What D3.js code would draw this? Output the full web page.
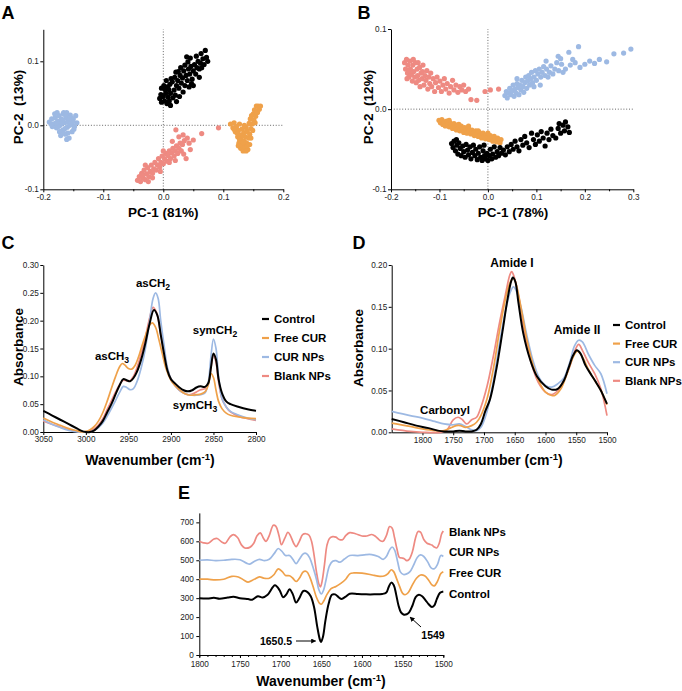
<!DOCTYPE html>
<html><head><meta charset="utf-8">
<script src="https://cdn.jsdelivr.net/npm/d3@7"></script>
<style>body{margin:0;background:#fff} svg{display:block} text{font-family:"Liberation Sans",Arial,sans-serif}</style>
</head><body><svg id="c" width="682" height="691"></svg>
<script>
// ---------- DATA ----------
const seriesNames = ["Control", "Free CUR", "CUR NPs", "Blank NPs"];
const seriesColors = ["#000000", "#EFA14A", "#9DB9E3", "#EE8A82"];

// Panel A PCA scores [PC1, PC2]
const pcaA_control = [[0.000,0.045],[0.002,0.038],[0.004,0.050],[-0.004,0.048],[-0.006,0.042],[0.006,0.034],[0.008,0.044],[0.010,0.038],[0.003,0.056],[0.007,0.060],[0.012,0.050],[0.012,0.031],[0.016,0.043],[0.011,0.064],[0.001,0.062],[-0.003,0.058],[0.018,0.055],[0.020,0.047],[0.015,0.068],[0.022,0.062],[0.024,0.070],[0.019,0.075],[0.026,0.058],[0.028,0.078],[0.030,0.066],[0.025,0.084],[0.032,0.074],[0.034,0.085],[0.029,0.090],[0.036,0.062],[0.038,0.078],[0.040,0.070],[0.036,0.094],[0.042,0.088],[0.044,0.080],[0.041,0.099],[0.046,0.092],[0.048,0.072],[0.050,0.085],[0.045,0.105],[0.052,0.095],[0.054,0.080],[0.056,0.090],[0.050,0.062],[0.058,0.100],[0.060,0.088],[0.055,0.108],[0.062,0.097],[0.064,0.090],[0.066,0.104],[0.063,0.112],[0.068,0.095],[0.070,0.117],[0.072,0.106],[0.074,0.100],[0.060,0.075],[0.047,0.065],[0.033,0.052],[0.021,0.083],[0.013,0.073],[0.005,0.070],[0.039,0.107],[0.043,0.060],[0.009,0.056],[0.027,0.045],[0.022,0.037],[-0.003,0.036]];
const pcaA_freeCur = [[0.112,0.002],[0.116,-0.004],[0.118,0.004],[0.120,-0.010],[0.122,-0.002],[0.124,-0.018],[0.125,-0.008],[0.126,-0.028],[0.127,0.002],[0.128,-0.015],[0.129,-0.036],[0.130,-0.022],[0.131,-0.006],[0.132,-0.030],[0.133,-0.040],[0.134,-0.012],[0.135,-0.025],[0.136,-0.034],[0.137,-0.018],[0.138,-0.003],[0.139,-0.028],[0.140,-0.010],[0.141,-0.038],[0.142,-0.020],[0.143,0.003],[0.144,-0.014],[0.145,0.010],[0.146,-0.005],[0.147,0.015],[0.148,0.002],[0.150,0.018],[0.151,0.008],[0.152,0.024],[0.154,0.014],[0.155,0.030],[0.157,0.020],[0.158,0.030],[0.160,0.025],[0.162,0.030],[0.153,0.004],[0.149,-0.008],[0.131,-0.016],[0.127,-0.022],[0.138,-0.040],[0.144,-0.030],[0.123,-0.012],[0.118,-0.006],[0.135,0.000],[0.139,-0.008],[0.133,-0.026],[0.140,-0.032],[0.146,-0.020],[0.125,-0.032]];
const pcaA_curNps = [[-0.190,0.005],[-0.186,0.010],[-0.183,0.002],[-0.180,0.012],[-0.178,-0.004],[-0.176,0.006],[-0.174,0.015],[-0.172,0.000],[-0.170,0.010],[-0.168,-0.008],[-0.167,0.018],[-0.165,0.004],[-0.163,-0.014],[-0.162,0.012],[-0.160,-0.003],[-0.158,0.008],[-0.157,-0.020],[-0.155,0.016],[-0.153,0.002],[-0.152,-0.010],[-0.150,0.010],[-0.148,-0.002],[-0.146,0.015],[-0.144,0.004],[-0.185,-0.002],[-0.181,0.018],[-0.177,0.020],[-0.173,-0.010],[-0.169,0.003],[-0.166,0.020],[-0.164,-0.005],[-0.161,0.020],[-0.159,-0.012],[-0.156,0.000],[-0.154,0.012],[-0.151,0.005],[-0.149,-0.006],[-0.171,-0.016],[-0.166,-0.012],[-0.161,-0.022],[-0.175,-0.002],[-0.179,0.004],[-0.187,0.002],[-0.160,0.005],[-0.168,0.008],[-0.157,0.010],[-0.163,0.016]];
const pcaA_blankNps = [[-0.043,-0.086],[-0.040,-0.080],[-0.038,-0.088],[-0.036,-0.075],[-0.034,-0.082],[-0.032,-0.070],[-0.030,-0.085],[-0.028,-0.076],[-0.026,-0.066],[-0.024,-0.080],[-0.022,-0.072],[-0.020,-0.062],[-0.018,-0.075],[-0.016,-0.068],[-0.014,-0.058],[-0.012,-0.070],[-0.010,-0.062],[-0.008,-0.052],[-0.006,-0.065],[-0.004,-0.058],[-0.002,-0.048],[0.000,-0.060],[0.002,-0.052],[0.004,-0.044],[0.006,-0.056],[0.008,-0.047],[0.010,-0.040],[0.012,-0.052],[0.014,-0.043],[0.016,-0.036],[0.018,-0.048],[0.020,-0.040],[0.022,-0.032],[0.024,-0.044],[0.026,-0.036],[0.028,-0.028],[0.030,-0.040],[0.032,-0.030],[0.035,-0.024],[0.033,-0.015],[0.040,-0.020],[0.043,-0.028],[0.050,-0.023],[0.038,-0.052],[0.064,-0.013],[0.092,-0.004],[0.021,-0.007],[-0.025,-0.088],[-0.035,-0.078],[-0.018,-0.082],[-0.005,-0.072],[0.010,-0.058],[0.020,-0.055],[0.034,-0.045],[0.045,-0.038],[-0.030,-0.062],[0.000,-0.040],[0.015,-0.025],[0.026,-0.018]];

// Panel B PCA scores
const pcaB_control = [[-0.075,-0.043],[-0.072,-0.048],[-0.070,-0.040],[-0.067,-0.052],[-0.064,-0.045],[-0.062,-0.056],[-0.060,-0.042],[-0.057,-0.049],[-0.055,-0.058],[-0.052,-0.046],[-0.050,-0.053],[-0.047,-0.060],[-0.045,-0.044],[-0.042,-0.051],[-0.040,-0.057],[-0.037,-0.047],[-0.035,-0.062],[-0.032,-0.054],[-0.030,-0.045],[-0.027,-0.058],[-0.025,-0.050],[-0.022,-0.063],[-0.020,-0.055],[-0.017,-0.047],[-0.015,-0.060],[-0.012,-0.064],[-0.010,-0.052],[-0.007,-0.058],[-0.005,-0.062],[-0.002,-0.055],[0.000,-0.064],[0.003,-0.058],[0.005,-0.050],[0.008,-0.062],[0.010,-0.056],[0.013,-0.047],[0.016,-0.060],[0.019,-0.053],[0.022,-0.058],[0.025,-0.048],[0.028,-0.055],[0.032,-0.051],[0.036,-0.057],[0.040,-0.047],[0.044,-0.053],[0.048,-0.044],[0.052,-0.050],[0.056,-0.040],[0.060,-0.047],[0.064,-0.052],[0.068,-0.038],[0.072,-0.045],[0.076,-0.034],[0.080,-0.042],[0.085,-0.048],[0.090,-0.030],[0.094,-0.038],[0.098,-0.044],[0.102,-0.032],[0.106,-0.040],[0.110,-0.028],[0.114,-0.036],[0.118,-0.046],[0.122,-0.030],[0.126,-0.038],[0.130,-0.025],[0.134,-0.033],[0.140,-0.036],[0.145,-0.024],[0.150,-0.030],[0.155,-0.020],[0.158,-0.027],[0.160,-0.016],[0.165,-0.022],[0.168,-0.029],[0.147,-0.018],[-0.065,-0.038],[-0.008,-0.045]];
const pcaB_freeCur = [[-0.101,-0.014],[-0.098,-0.017],[-0.095,-0.013],[-0.093,-0.019],[-0.090,-0.016],[-0.088,-0.021],[-0.085,-0.015],[-0.083,-0.019],[-0.080,-0.022],[-0.078,-0.017],[-0.075,-0.020],[-0.073,-0.024],[-0.070,-0.018],[-0.068,-0.022],[-0.065,-0.026],[-0.063,-0.020],[-0.060,-0.024],[-0.058,-0.027],[-0.055,-0.021],[-0.053,-0.025],[-0.050,-0.029],[-0.048,-0.023],[-0.045,-0.027],[-0.043,-0.030],[-0.040,-0.024],[-0.038,-0.028],[-0.035,-0.031],[-0.033,-0.026],[-0.030,-0.030],[-0.028,-0.033],[-0.025,-0.027],[-0.023,-0.031],[-0.020,-0.034],[-0.018,-0.029],[-0.015,-0.032],[-0.013,-0.036],[-0.010,-0.030],[-0.008,-0.034],[-0.005,-0.037],[-0.003,-0.032],[0.000,-0.035],[0.003,-0.038],[0.005,-0.033],[0.008,-0.036],[0.010,-0.040],[0.013,-0.034],[0.015,-0.038],[0.018,-0.041],[0.020,-0.036],[0.023,-0.039],[0.025,-0.042],[0.027,-0.038],[-0.060,-0.019],[-0.040,-0.021],[-0.020,-0.027],[0.000,-0.030],[-0.080,-0.014]];
const pcaB_curNps = [[0.035,0.017],[0.038,0.022],[0.040,0.014],[0.043,0.020],[0.045,0.026],[0.047,0.018],[0.050,0.023],[0.052,0.030],[0.054,0.016],[0.056,0.025],[0.058,0.020],[0.060,0.032],[0.062,0.027],[0.064,0.018],[0.066,0.030],[0.068,0.024],[0.070,0.036],[0.072,0.028],[0.074,0.021],[0.076,0.033],[0.078,0.040],[0.080,0.026],[0.082,0.035],[0.084,0.042],[0.086,0.030],[0.088,0.038],[0.090,0.046],[0.092,0.033],[0.095,0.040],[0.098,0.048],[0.100,0.036],[0.103,0.044],[0.106,0.050],[0.109,0.040],[0.112,0.046],[0.115,0.053],[0.118,0.042],[0.121,0.050],[0.124,0.040],[0.127,0.046],[0.130,0.054],[0.134,0.044],[0.138,0.050],[0.142,0.058],[0.146,0.048],[0.145,0.066],[0.150,0.063],[0.155,0.046],[0.160,0.050],[0.167,0.071],[0.170,0.055],[0.180,0.058],[0.187,0.078],[0.190,0.052],[0.200,0.056],[0.210,0.060],[0.220,0.057],[0.230,0.062],[0.245,0.059],[0.260,0.069],[0.280,0.070],[0.295,0.075],[0.120,0.060],[0.095,0.028],[0.060,0.038],[0.108,0.030],[0.152,0.056],[0.175,0.062]];
const pcaB_blankNps = [[-0.172,0.058],[-0.170,0.050],[-0.168,0.062],[-0.166,0.045],[-0.165,0.055],[-0.163,0.040],[-0.161,0.060],[-0.160,0.050],[-0.158,0.043],[-0.156,0.035],[-0.155,0.055],[-0.153,0.047],[-0.151,0.040],[-0.150,0.058],[-0.148,0.033],[-0.146,0.050],[-0.145,0.042],[-0.143,0.036],[-0.141,0.052],[-0.140,0.028],[-0.138,0.045],[-0.136,0.038],[-0.134,0.055],[-0.132,0.030],[-0.130,0.042],[-0.128,0.036],[-0.126,0.048],[-0.124,0.025],[-0.122,0.040],[-0.120,0.032],[-0.118,0.045],[-0.116,0.028],[-0.113,0.038],[-0.110,0.022],[-0.108,0.033],[-0.105,0.040],[-0.102,0.027],[-0.099,0.035],[-0.096,0.022],[-0.093,0.030],[-0.090,0.038],[-0.087,0.025],[-0.084,0.032],[-0.080,0.020],[-0.077,0.028],[-0.073,0.036],[-0.070,0.024],[-0.066,0.030],[-0.062,0.021],[-0.058,0.028],[-0.054,0.024],[-0.050,0.030],[-0.046,0.022],[-0.040,0.025],[-0.035,0.012],[-0.023,0.011],[-0.006,0.022],[0.005,0.024],[0.022,0.025],[-0.162,0.048],[-0.154,0.062],[-0.144,0.058],[-0.135,0.047],[-0.167,0.038]];

// Panel C spectra [wavenumber, absorbance]
const ftirC_control = [[3050,0.038],[3040,0.030],[3030,0.022],[3020,0.014],[3010,0.006],[3005,0.002],[3000,0.0],[2995,0.0],[2990,0.003],[2985,0.010],[2980,0.020],[2975,0.035],[2970,0.050],[2965,0.068],[2960,0.085],[2956,0.095],[2952,0.093],[2948,0.091],[2944,0.097],[2940,0.108],[2935,0.130],[2930,0.160],[2925,0.195],[2920,0.219],[2916,0.210],[2912,0.175],[2908,0.140],[2904,0.110],[2900,0.095],[2895,0.087],[2890,0.080],[2885,0.075],[2880,0.073],[2875,0.075],[2870,0.080],[2865,0.082],[2860,0.081],[2856,0.088],[2853,0.115],[2850,0.141],[2847,0.130],[2844,0.095],[2840,0.070],[2835,0.055],[2830,0.050],[2820,0.045],[2810,0.041],[2800,0.038]];
const ftirC_freeCur = [[3050,0.025],[3040,0.018],[3030,0.012],[3020,0.006],[3010,0.002],[3005,0.0],[3000,0.001],[2995,0.004],[2990,0.010],[2985,0.020],[2980,0.035],[2975,0.055],[2970,0.078],[2965,0.100],[2960,0.118],[2957,0.123],[2954,0.120],[2950,0.114],[2946,0.113],[2942,0.120],[2938,0.135],[2934,0.155],[2930,0.173],[2925,0.192],[2922,0.196],[2918,0.188],[2914,0.165],[2910,0.140],[2906,0.115],[2900,0.093],[2895,0.083],[2890,0.076],[2885,0.070],[2880,0.067],[2875,0.066],[2870,0.067],[2865,0.068],[2860,0.072],[2856,0.085],[2853,0.105],[2850,0.098],[2847,0.075],[2844,0.055],[2840,0.042],[2835,0.034],[2830,0.030],[2820,0.027],[2810,0.025],[2800,0.024]];
const ftirC_curNps = [[3050,0.022],[3040,0.014],[3030,0.008],[3020,0.003],[3010,0.0],[3005,0.0],[3000,0.0],[2995,0.0],[2990,0.003],[2985,0.008],[2980,0.016],[2975,0.028],[2970,0.042],[2965,0.057],[2960,0.072],[2956,0.082],[2952,0.080],[2948,0.076],[2944,0.078],[2940,0.090],[2935,0.115],[2930,0.150],[2925,0.200],[2921,0.240],[2918,0.250],[2915,0.240],[2912,0.200],[2908,0.155],[2904,0.115],[2900,0.095],[2895,0.083],[2890,0.075],[2885,0.070],[2880,0.067],[2875,0.066],[2870,0.066],[2865,0.067],[2860,0.070],[2856,0.090],[2853,0.135],[2850,0.167],[2847,0.150],[2844,0.100],[2840,0.060],[2835,0.045],[2830,0.037],[2820,0.030],[2810,0.025],[2800,0.022]];
const ftirC_blankNps = [[3050,0.020],[3040,0.014],[3030,0.009],[3020,0.004],[3010,0.001],[3005,0.0],[3000,0.0],[2995,0.002],[2990,0.006],[2985,0.013],[2980,0.024],[2975,0.040],[2970,0.056],[2965,0.072],[2960,0.086],[2956,0.093],[2952,0.092],[2948,0.092],[2944,0.100],[2940,0.115],[2935,0.140],[2930,0.170],[2925,0.205],[2921,0.224],[2917,0.215],[2913,0.185],[2909,0.150],[2905,0.118],[2900,0.095],[2895,0.083],[2890,0.075],[2885,0.070],[2880,0.067],[2875,0.068],[2870,0.072],[2865,0.076],[2860,0.078],[2856,0.088],[2853,0.115],[2850,0.138],[2847,0.125],[2844,0.090],[2840,0.060],[2835,0.045],[2830,0.036],[2820,0.028],[2810,0.024],[2800,0.021]];

// Panel D spectra
const ftirD_control = [[1850,0.016],[1830,0.012],[1810,0.008],[1790,0.005],[1775,0.002],[1765,0.001],[1750,0.001],[1740,0.002],[1730,0.001],[1720,0.001],[1712,0.003],[1705,0.010],[1698,0.025],[1690,0.040],[1680,0.075],[1670,0.120],[1662,0.158],[1656,0.180],[1653,0.185],[1649,0.180],[1644,0.155],[1636,0.118],[1625,0.087],[1614,0.067],[1600,0.055],[1590,0.051],[1580,0.052],[1570,0.062],[1562,0.078],[1555,0.092],[1549,0.098],[1543,0.094],[1535,0.080],[1525,0.068],[1518,0.060],[1510,0.050],[1505,0.042],[1500,0.034]];
const ftirD_freeCur = [[1850,0.011],[1820,0.007],[1800,0.004],[1780,0.002],[1765,0.002],[1755,0.005],[1745,0.008],[1738,0.008],[1730,0.006],[1720,0.008],[1712,0.012],[1705,0.020],[1695,0.040],[1685,0.075],[1675,0.120],[1665,0.160],[1657,0.180],[1652,0.184],[1648,0.178],[1640,0.150],[1630,0.110],[1620,0.080],[1610,0.060],[1600,0.048],[1590,0.044],[1585,0.044],[1575,0.052],[1565,0.070],[1555,0.090],[1548,0.097],[1540,0.090],[1530,0.075],[1520,0.062],[1510,0.050],[1500,0.033]];
const ftirD_curNps = [[1850,0.025],[1820,0.020],[1800,0.017],[1780,0.013],[1765,0.010],[1750,0.009],[1740,0.010],[1730,0.007],[1720,0.003],[1712,0.002],[1705,0.006],[1695,0.025],[1685,0.060],[1675,0.105],[1665,0.145],[1657,0.168],[1652,0.174],[1648,0.170],[1640,0.150],[1630,0.115],[1620,0.085],[1610,0.065],[1600,0.056],[1590,0.054],[1580,0.058],[1570,0.065],[1560,0.085],[1553,0.103],[1546,0.110],[1540,0.108],[1530,0.093],[1520,0.080],[1510,0.070],[1500,0.046]];
const ftirD_blankNps = [[1850,0.004],[1820,0.001],[1800,0.0],[1770,0.0],[1760,0.003],[1750,0.015],[1742,0.018],[1735,0.015],[1728,0.010],[1720,0.015],[1712,0.018],[1705,0.030],[1695,0.055],[1685,0.090],[1675,0.130],[1665,0.165],[1658,0.188],[1655,0.192],[1651,0.186],[1643,0.160],[1633,0.115],[1622,0.080],[1612,0.060],[1600,0.048],[1590,0.045],[1580,0.050],[1570,0.062],[1560,0.080],[1552,0.098],[1546,0.105],[1540,0.098],[1530,0.083],[1520,0.070],[1510,0.052],[1500,0.020]];

// Panel E second-derivative spectra (offset)
const ftirE_control = [[1800,300],[1790,298],[1782,302],[1775,297],[1765,303],[1758,307],[1750,300],[1740,295],[1735,292],[1728,310],[1722,304],[1716,318],[1707,368],[1701,340],[1697,305],[1693,320],[1689,347],[1685,320],[1681,277],[1677,300],[1672,338],[1667,332],[1663,310],[1659,255],[1655,150],[1652,85],[1650.5,68],[1648,95],[1645,180],[1641,270],[1637,318],[1633,320],[1628,302],[1625,296],[1620,308],[1615,323],[1605,322],[1595,320],[1585,320],[1575,322],[1570,330],[1567,360],[1564,382],[1561,370],[1558,320],[1555,260],[1552,225],[1549,214],[1545,215],[1542,225],[1538,260],[1534,305],[1530,318],[1526,310],[1522,290],[1518,268],[1514,253],[1511,262],[1508,295],[1504,328],[1500,335]];
const ftirE_freeCur = [[1800,400],[1790,400],[1780,396],[1770,400],[1760,415],[1752,412],[1745,395],[1740,385],[1733,398],[1726,412],[1720,405],[1714,405],[1708,425],[1703,455],[1698,440],[1694,420],[1689,418],[1685,405],[1681,388],[1677,405],[1672,440],[1668,440],[1664,410],[1660,360],[1656,305],[1652,272],[1650,268],[1647,285],[1643,320],[1638,350],[1632,362],[1626,378],[1620,400],[1615,428],[1610,433],[1600,432],[1590,425],[1585,420],[1578,415],[1572,418],[1568,430],[1564,450],[1561,440],[1558,410],[1554,365],[1550,325],[1547,318],[1543,330],[1538,370],[1533,405],[1528,422],[1523,418],[1518,395],[1514,370],[1511,365],[1507,390],[1503,430],[1500,440]];
const ftirE_curNps = [[1800,500],[1790,502],[1780,498],[1770,500],[1760,505],[1750,503],[1742,485],[1738,480],[1732,495],[1726,505],[1720,498],[1714,505],[1708,535],[1703,562],[1698,545],[1694,525],[1689,525],[1685,505],[1681,482],[1677,505],[1672,535],[1668,535],[1664,510],[1660,460],[1656,400],[1653,345],[1650,322],[1647,345],[1644,400],[1640,470],[1636,495],[1632,498],[1627,490],[1622,505],[1615,525],[1605,525],[1595,530],[1588,530],[1580,520],[1574,505],[1570,520],[1566,555],[1563,570],[1560,555],[1556,490],[1553,440],[1549,425],[1545,428],[1541,440],[1537,470],[1532,515],[1528,528],[1524,520],[1519,490],[1515,460],[1511,455],[1507,480],[1503,525],[1500,520]];
const ftirE_blankNps = [[1800,600],[1795,592],[1789,590],[1782,612],[1778,615],[1772,595],[1768,590],[1762,625],[1758,635],[1753,620],[1748,580],[1744,565],[1738,568],[1733,590],[1729,630],[1725,645],[1721,615],[1718,600],[1714,630],[1709,685],[1706,680],[1702,630],[1699,582],[1695,615],[1691,648],[1688,630],[1684,590],[1681,572],[1677,600],[1673,635],[1669,640],[1665,632],[1662,600],[1659,530],[1656,440],[1653,375],[1651,360],[1649,390],[1646,480],[1643,580],[1640,615],[1636,625],[1632,622],[1628,610],[1624,608],[1620,630],[1615,646],[1608,640],[1600,628],[1594,628],[1588,636],[1583,625],[1578,605],[1574,600],[1570,630],[1566,678],[1563,670],[1560,620],[1557,560],[1554,515],[1551,512],[1548,508],[1545,498],[1542,505],[1538,545],[1534,620],[1531,652],[1528,648],[1524,610],[1520,590],[1517,585],[1514,580],[1511,570],[1508,565],[1505,590],[1502,640],[1500,655]];

// Tick values
const ticksA_x = [-0.2,-0.1,0,0.1,0.2], ticksA_xMinor = [-0.15,-0.05,0.05,0.15], ticksA_y = [-0.1,0,0.1];
const ticksB_x = [-0.2,-0.1,0,0.1,0.2,0.3], ticksB_xMinor = [-0.15,-0.05,0.05,0.15,0.25], ticksB_y = [-0.1,0,0.1];
const ticksC_x = [3050,3000,2950,2900,2850,2800], ticksC_y = [0,0.05,0.10,0.15,0.20,0.25,0.30];
const ticksD_x = [1800,1750,1700,1650,1600,1550,1500], ticksD_y = [0,0.05,0.10,0.15,0.20];
const ticksE_x = [1800,1750,1700,1650,1600,1550,1500], ticksE_y = [0,100,200,300,400,500,600,700];
const ticksE_xMinor = d3.range(1500, 1801, 10);

// ---------- DRAW ----------
const svg = d3.select("#c");
const FONT = '"Liberation Sans",Arial,sans-serif';
const fmt1 = v => d3.format(".1f")(v).replace("−","-");
const fmt2 = v => d3.format(".2f")(v);

function drawAxes(x, y, o) {
  const g = svg.append("g");
  g.append("g").attr("transform", `translate(0,${y.range()[0]})`)
    .call(d3.axisBottom(x).tickValues(o.xt).tickFormat(o.xf).tickSize(3).tickSizeOuter(0).tickPadding(o.padX || 1.5));
  if (o.xm) {
    g.append("g").attr("transform", `translate(0,${y.range()[0]})`)
      .call(d3.axisBottom(x).tickValues(o.xm).tickFormat("").tickSize(2).tickSizeOuter(0))
      .select(".domain").remove();
  }
  g.append("g").attr("transform", `translate(${x.range()[0]},0)`)
    .call(d3.axisLeft(y).tickValues(o.yt).tickFormat(o.yf).tickSize(3).tickSizeOuter(0).tickPadding(o.padY || 1.5));
  g.selectAll("text").attr("font-size", 8.2).attr("font-family", FONT).attr("fill", "#222");
  g.selectAll("line,path").attr("stroke", "#000");
  return g;
}

function label(x, y, txt, size, opts = {}) {
  const t = svg.append("text").attr("x", x).attr("y", y).attr("font-size", size)
    .attr("font-weight", "bold").attr("font-family", FONT)
    .attr("text-anchor", opts.anchor || "middle").attr("dominant-baseline", "central");
  if (opts.rotate) t.attr("transform", `rotate(-90,${x},${y})`);
  t.text(txt);
  return t;
}
function wavLabel(x, y) {
  const t = svg.append("text").attr("x", x).attr("y", y).attr("font-size", 14)
    .attr("font-weight", "bold").attr("font-family", FONT).attr("text-anchor", "middle");
  t.append("tspan").text("Wavenumber (cm");
  t.append("tspan").attr("dy", -5.5).attr("font-size", 9.5).text("-1");
  t.append("tspan").attr("dy", 5.5).text(")");
}
function subLabel(x, y, main, sub, size) {
  const t = svg.append("text").attr("x", x).attr("y", y).attr("font-size", size)
    .attr("font-weight", "bold").attr("font-family", FONT).attr("text-anchor", "middle");
  t.append("tspan").text(main);
  t.append("tspan").attr("dy", 3).attr("font-size", size * 0.75).text(sub);
}

function scatterPanel(xr, yr, xd, yd, sets, axo) {
  const x = d3.scaleLinear().domain(xd).range(xr);
  const y = d3.scaleLinear().domain(yd).range(yr);
  svg.append("line").attr("x1", x(0)).attr("x2", x(0)).attr("y1", y(yd[0])).attr("y2", y(yd[1]))
    .attr("stroke", "#666").attr("stroke-width", 1).attr("stroke-dasharray", "1,1.8");
  svg.append("line").attr("x1", x(xd[0])).attr("x2", x(xd[1])).attr("y1", y(0)).attr("y2", y(0))
    .attr("stroke", "#666").attr("stroke-width", 1).attr("stroke-dasharray", "1,1.8");
  sets.forEach(s => {
    svg.append("g").selectAll("circle").data(s.data).join("circle")
      .attr("cx", d => x(d[0])).attr("cy", d => y(d[1])).attr("r", 2.6).attr("fill", s.color);
  });
  drawAxes(x, y, axo);
}

// Panel A
scatterPanel([43.3, 283.3], [189.3, 29.3], [-0.2, 0.2], [-0.1, 0.15], [
  {data: pcaA_curNps, color: seriesColors[2]},
  {data: pcaA_blankNps, color: seriesColors[3]},
  {data: pcaA_freeCur, color: seriesColors[1]},
  {data: pcaA_control, color: seriesColors[0]}
], {xt: ticksA_x, xm: ticksA_xMinor, xf: fmt1, yt: ticksA_y, yf: fmt1});
label(8, 13, "A", 18);
label(163.3, 212, "PC-1 (81%)", 13.5);
label(18, 107, "PC-2  (13%)", 13.5, {rotate: true}).style("white-space", "pre");

// Panel B
scatterPanel([391, 633.3], [189.3, 29], [-0.2, 0.3], [-0.1, 0.1], [
  {data: pcaB_blankNps, color: seriesColors[3]},
  {data: pcaB_curNps, color: seriesColors[2]},
  {data: pcaB_freeCur, color: seriesColors[1]},
  {data: pcaB_control, color: seriesColors[0]}
], {xt: ticksB_x, xm: ticksB_xMinor, xf: fmt1, yt: ticksB_y, yf: fmt1});
label(364, 13, "B", 18);
label(513, 212, "PC-1 (78%)", 13.5);
label(368, 107, "PC-2  (12%)", 13.5, {rotate: true}).style("white-space", "pre");

function spectraPanel(xr, yr, xd, yd, sets, axo, width) {
  const x = d3.scaleLinear().domain(xd).range(xr);
  const y = d3.scaleLinear().domain(yd).range(yr);
  const line = d3.line().x(d => x(d[0])).y(d => y(d[1])).curve(d3.curveCatmullRom.alpha(0.5));
  drawAxes(x, y, axo);
  sets.forEach(s => {
    svg.append("path").datum(s.data).attr("d", line).attr("fill", "none")
      .attr("stroke", s.color).attr("stroke-width", s.w || width).attr("stroke-linejoin", "round");
  });
  return {x, y};
}
function legend(x, y0, dy) {
  seriesNames.forEach((n, i) => {
    const yy = y0 + i * dy;
    svg.append("line").attr("x1", x).attr("x2", x + 7).attr("y1", yy).attr("y2", yy)
      .attr("stroke", seriesColors[i]).attr("stroke-width", 2.2);
    label(x + 12, yy, n, 11.5, {anchor: "start"});
  });
}

// Panel C
spectraPanel([43.3, 256], [432, 265], [3050, 2800], [0, 0.30], [
  {data: ftirC_blankNps, color: seriesColors[3]},
  {data: ftirC_curNps, color: seriesColors[2]},
  {data: ftirC_freeCur, color: seriesColors[1]},
  {data: ftirC_control, color: seriesColors[0], w: 2}
], {xt: ticksC_x, xf: d3.format("d"), yt: ticksC_y, yf: fmt2}, 1.7);
label(8, 243, "C", 18);
wavLabel(150, 465);
label(18, 347, "Absorbance", 13.5, {rotate: true});
legend(262, 319, 19);
subLabel(153, 287, "asCH", "2", 11.5);
subLabel(112, 360, "asCH", "3", 11.5);
subLabel(215, 334, "symCH", "2", 11.5);
subLabel(195, 409, "symCH", "3", 11.5);

// Panel D
spectraPanel([391.7, 607], [432.3, 265], [1850, 1500], [0, 0.20], [
  {data: ftirD_blankNps, color: seriesColors[3]},
  {data: ftirD_curNps, color: seriesColors[2]},
  {data: ftirD_freeCur, color: seriesColors[1]},
  {data: ftirD_control, color: seriesColors[0], w: 2}
], {xt: ticksD_x, xf: d3.format("d"), yt: ticksD_y, yf: fmt2}, 1.7);
label(359, 243, "D", 18);
wavLabel(498, 465);
label(358, 348, "Absorbance", 13.5, {rotate: true});
legend(613, 325, 18.6);
label(512, 263, "Amide I", 12);
label(577, 330, "Amide II", 12);
label(445, 410, "Carbonyl", 11.5);

// Panel E
const pe = spectraPanel([199.3, 443.3], [655, 512.9], [1800, 1500], [0, 750], [
  {data: ftirE_blankNps, color: seriesColors[3]},
  {data: ftirE_curNps, color: seriesColors[2]},
  {data: ftirE_freeCur, color: seriesColors[1]},
  {data: ftirE_control, color: seriesColors[0], w: 2}
], {xt: ticksE_x, xm: ticksE_xMinor, xf: d3.format("d"), yt: ticksE_y, yf: d3.format("d"), padX: 3, padY: 2.5}, 1.7);
label(184, 493, "E", 18);
wavLabel(321, 686);
label(449, 532, "Blank NPs", 11.5, {anchor: "start"});
label(449, 552, "CUR NPs", 11.5, {anchor: "start"});
label(449, 573, "Free CUR", 11.5, {anchor: "start"});
label(449, 594, "Control", 11.5, {anchor: "start"});

svg.append("defs").append("marker").attr("id", "ah").attr("viewBox", "0 0 10 10")
  .attr("refX", 9).attr("refY", 5).attr("markerWidth", 5).attr("markerHeight", 5).attr("orient", "auto")
  .append("path").attr("d", "M0,0 L10,5 L0,10 z").attr("fill", "#000");
label(276, 641, "1650.5", 10.5);
svg.append("line").attr("x1", 296).attr("y1", 641).attr("x2", pe.x(1652) - 4).attr("y2", 641)
  .attr("stroke", "#000").attr("stroke-width", 1).attr("marker-end", "url(#ah)");
label(433, 635, "1549", 10.5);
svg.append("line").attr("x1", 421).attr("y1", 627).attr("x2", 410).attr("y2", 617)
  .attr("stroke", "#000").attr("stroke-width", 1).attr("marker-end", "url(#ah)");
</script></body></html>
